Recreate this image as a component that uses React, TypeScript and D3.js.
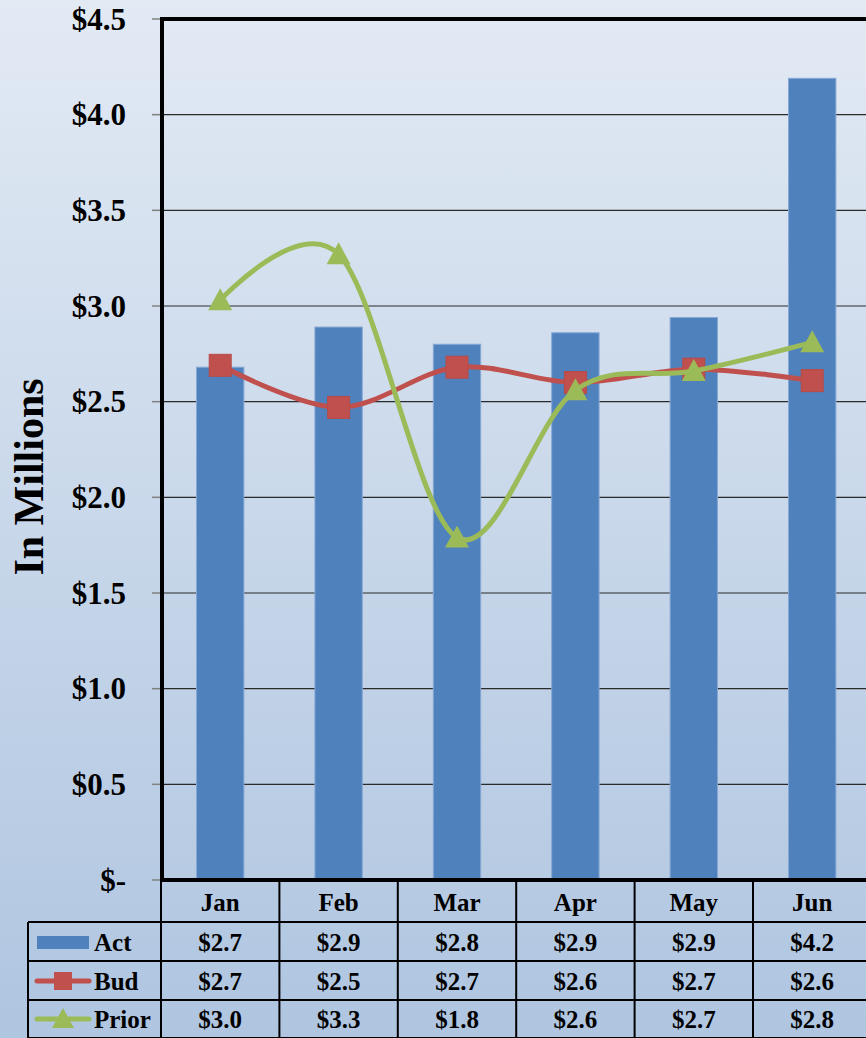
import { useEffect, useRef } from 'react';
import * as d3 from 'd3';

// Monthly figures, in millions
const months = ['Jan', 'Feb', 'Mar', 'Apr', 'May', 'Jun'];
const actValues = [2.68, 2.89, 2.8, 2.86, 2.94, 4.19];
const budValues = [2.69, 2.47, 2.68, 2.6, 2.67, 2.61];
const priorValues = [3.03, 3.27, 1.79, 2.56, 2.66, 2.81];
const yTicks = [0, 0.5, 1, 1.5, 2, 2.5, 3, 3.5, 4, 4.5];

const COLORS = {
  act: '#4f81bd',
  actEdge: '#86a8d4',
  bud: '#c0504d',
  prior: '#9bbb59',
  grid: '#2a2a2a',
  tick: '#808080',
  text: '#000000',
  bgTop: '#e2eaf4',
  bgBottom: '#afc5e0',
};

const W = 866;
const H = 1038;
const FONT = '"Liberation Serif", "Times New Roman", serif';

const fmt = (v: number) => (v === 0 ? '$-' : `$${v.toFixed(1)}`);

export default function App() {
  const svgRef = useRef<SVGSVGElement>(null);

  useEffect(() => {
    if (!svgRef.current) return;
    const svg = d3.select(svgRef.current);
    svg.selectAll('*').remove();

    const plotLeft = 161;
    const plotTop = 19;
    const plotBottom = 880;
    const band = 118.4;

    const x = d3.scaleBand<string>()
      .domain(months)
      .range([plotLeft, plotLeft + band * months.length])
      .paddingInner(0.6)
      .paddingOuter(0.3);
    const xc = (m: string) => (x(m) ?? 0) + x.bandwidth() / 2;
    const y = d3.scaleLinear().domain([0, 4.5]).range([plotBottom, plotTop]);

    // background gradient
    const defs = svg.append('defs');
    const grad = defs.append('linearGradient')
      .attr('id', 'bg-grad')
      .attr('x1', 0).attr('y1', 0).attr('x2', 0).attr('y2', 1);
    grad.append('stop').attr('offset', '0%').attr('stop-color', COLORS.bgTop);
    grad.append('stop').attr('offset', '100%').attr('stop-color', COLORS.bgBottom);
    svg.append('rect').attr('width', W).attr('height', H).attr('fill', 'url(#bg-grad)');

    // gridlines + tick marks
    yTicks.forEach((t) => {
      if (t > 0 && t < 4.5) {
        svg.append('line')
          .attr('x1', plotLeft).attr('x2', W)
          .attr('y1', y(t)).attr('y2', y(t))
          .attr('stroke', COLORS.grid).attr('stroke-width', 1.2);
      }
      svg.append('line')
        .attr('x1', plotLeft - 9).attr('x2', plotLeft)
        .attr('y1', y(t)).attr('y2', y(t))
        .attr('stroke', COLORS.tick).attr('stroke-width', 1.5);
      svg.append('text')
        .attr('x', 126)
        .attr('y', y(t))
        .attr('text-anchor', 'end')
        .attr('dominant-baseline', 'central')
        .attr('font-family', FONT)
        .attr('font-weight', 700)
        .attr('font-size', 31)
        .attr('fill', COLORS.text)
        .text(fmt(t));
    });

    // axis title
    svg.append('text')
      .attr('transform', `translate(43,477) rotate(-90)`)
      .attr('text-anchor', 'middle')
      .attr('font-family', FONT)
      .attr('font-weight', 700)
      .attr('font-size', 42)
      .attr('fill', COLORS.text)
      .text('In Millions');

    // bars
    svg.append('g')
      .selectAll('rect')
      .data(actValues)
      .join('rect')
      .attr('x', (_, i) => x(months[i]) ?? 0)
      .attr('y', (d) => y(d))
      .attr('width', x.bandwidth())
      .attr('height', (d) => plotBottom - y(d))
      .attr('fill', COLORS.act)
      .attr('stroke', COLORS.actEdge)
      .attr('stroke-width', 1);

    const line = d3.line<number>()
      .x((_, i) => xc(months[i]))
      .y((d) => y(d))
      .curve(d3.curveCatmullRom.alpha(0));

    // Bud line + square markers
    svg.append('path')
      .attr('d', line(budValues) as string)
      .attr('fill', 'none')
      .attr('stroke', COLORS.bud)
      .attr('stroke-width', 5)
      .attr('stroke-linecap', 'round');
    budValues.forEach((d, i) => {
      svg.append('rect')
        .attr('x', xc(months[i]) - 11)
        .attr('y', y(d) - 11)
        .attr('width', 22)
        .attr('height', 22)
        .attr('fill', COLORS.bud)
        .attr('stroke', '#b84a47')
        .attr('stroke-width', 1);
    });

    // Prior line + triangle markers
    svg.append('path')
      .attr('d', line(priorValues) as string)
      .attr('fill', 'none')
      .attr('stroke', COLORS.prior)
      .attr('stroke-width', 5)
      .attr('stroke-linecap', 'round');
    const tri = (cx: number, cy: number) =>
      `M${cx},${cy - 12}L${cx + 12},${cy + 10}L${cx - 12},${cy + 10}Z`;
    priorValues.forEach((d, i) => {
      svg.append('path')
        .attr('d', tri(xc(months[i]), y(d)))
        .attr('fill', COLORS.prior);
    });

    // plot frame
    svg.append('line')
      .attr('x1', plotLeft + 1).attr('x2', plotLeft + 1)
      .attr('y1', plotTop - 2).attr('y2', plotBottom + 2)
      .attr('stroke', '#000').attr('stroke-width', 4);
    svg.append('line')
      .attr('x1', plotLeft - 1).attr('x2', W)
      .attr('y1', plotTop).attr('y2', plotTop)
      .attr('stroke', '#000').attr('stroke-width', 4);
    svg.append('line')
      .attr('x1', plotLeft - 1).attr('x2', W)
      .attr('y1', plotBottom).attr('y2', plotBottom)
      .attr('stroke', '#000').attr('stroke-width', 4);

    // data table
    const rowLines = [922, 961, 1000, 1038];
    const tableLeft = 28;
    const tableRight = plotLeft + band * months.length;
    const table = svg.append('g');

    rowLines.forEach((ry) => {
      table.append('line')
        .attr('x1', tableLeft).attr('x2', tableRight)
        .attr('y1', ry).attr('y2', ry)
        .attr('stroke', '#000').attr('stroke-width', 2);
    });
    table.append('line')
      .attr('x1', tableLeft).attr('x2', tableLeft)
      .attr('y1', 922).attr('y2', H)
      .attr('stroke', '#000').attr('stroke-width', 2);
    d3.range(months.length + 1).forEach((i) => {
      const cx = plotLeft + band * i;
      table.append('line')
        .attr('x1', cx).attr('x2', cx)
        .attr('y1', plotBottom).attr('y2', H)
        .attr('stroke', '#000').attr('stroke-width', 2);
    });

    const cellText = (tx: number, ty: number, s: string, anchor = 'middle') =>
      table.append('text')
        .attr('x', tx)
        .attr('y', ty)
        .attr('text-anchor', anchor)
        .attr('dominant-baseline', 'central')
        .attr('font-family', FONT)
        .attr('font-weight', 700)
        .attr('font-size', 25)
        .attr('fill', COLORS.text)
        .text(s);

    months.forEach((m, i) => {
      const cx = plotLeft + band * (i + 0.5);
      cellText(cx, 902, m);
      cellText(cx, 942, fmt(actValues[i]));
      cellText(cx, 981, fmt(budValues[i]));
      cellText(cx, 1019, fmt(priorValues[i]));
    });

    // legend keys
    table.append('rect')
      .attr('x', 37).attr('y', 936).attr('width', 52).attr('height', 13)
      .attr('fill', COLORS.act);
    cellText(94, 942, 'Act', 'start');

    table.append('line')
      .attr('x1', 37).attr('x2', 89).attr('y1', 981).attr('y2', 981)
      .attr('stroke', COLORS.bud).attr('stroke-width', 5).attr('stroke-linecap', 'round');
    table.append('rect')
      .attr('x', 54).attr('y', 972).attr('width', 18).attr('height', 18)
      .attr('fill', COLORS.bud);
    cellText(94, 981, 'Bud', 'start');

    table.append('line')
      .attr('x1', 37).attr('x2', 89).attr('y1', 1019).attr('y2', 1019)
      .attr('stroke', COLORS.prior).attr('stroke-width', 5).attr('stroke-linecap', 'round');
    table.append('path')
      .attr('d', `M63,1008L74,1028L52,1028Z`)
      .attr('fill', COLORS.prior);
    cellText(94, 1019, 'Prior', 'start');
  }, []);

  return (
    <svg
      ref={svgRef}
      width={W}
      height={H}
      style={{ position: 'absolute', left: 0, top: 0, display: 'block' }}
    />
  );
}
